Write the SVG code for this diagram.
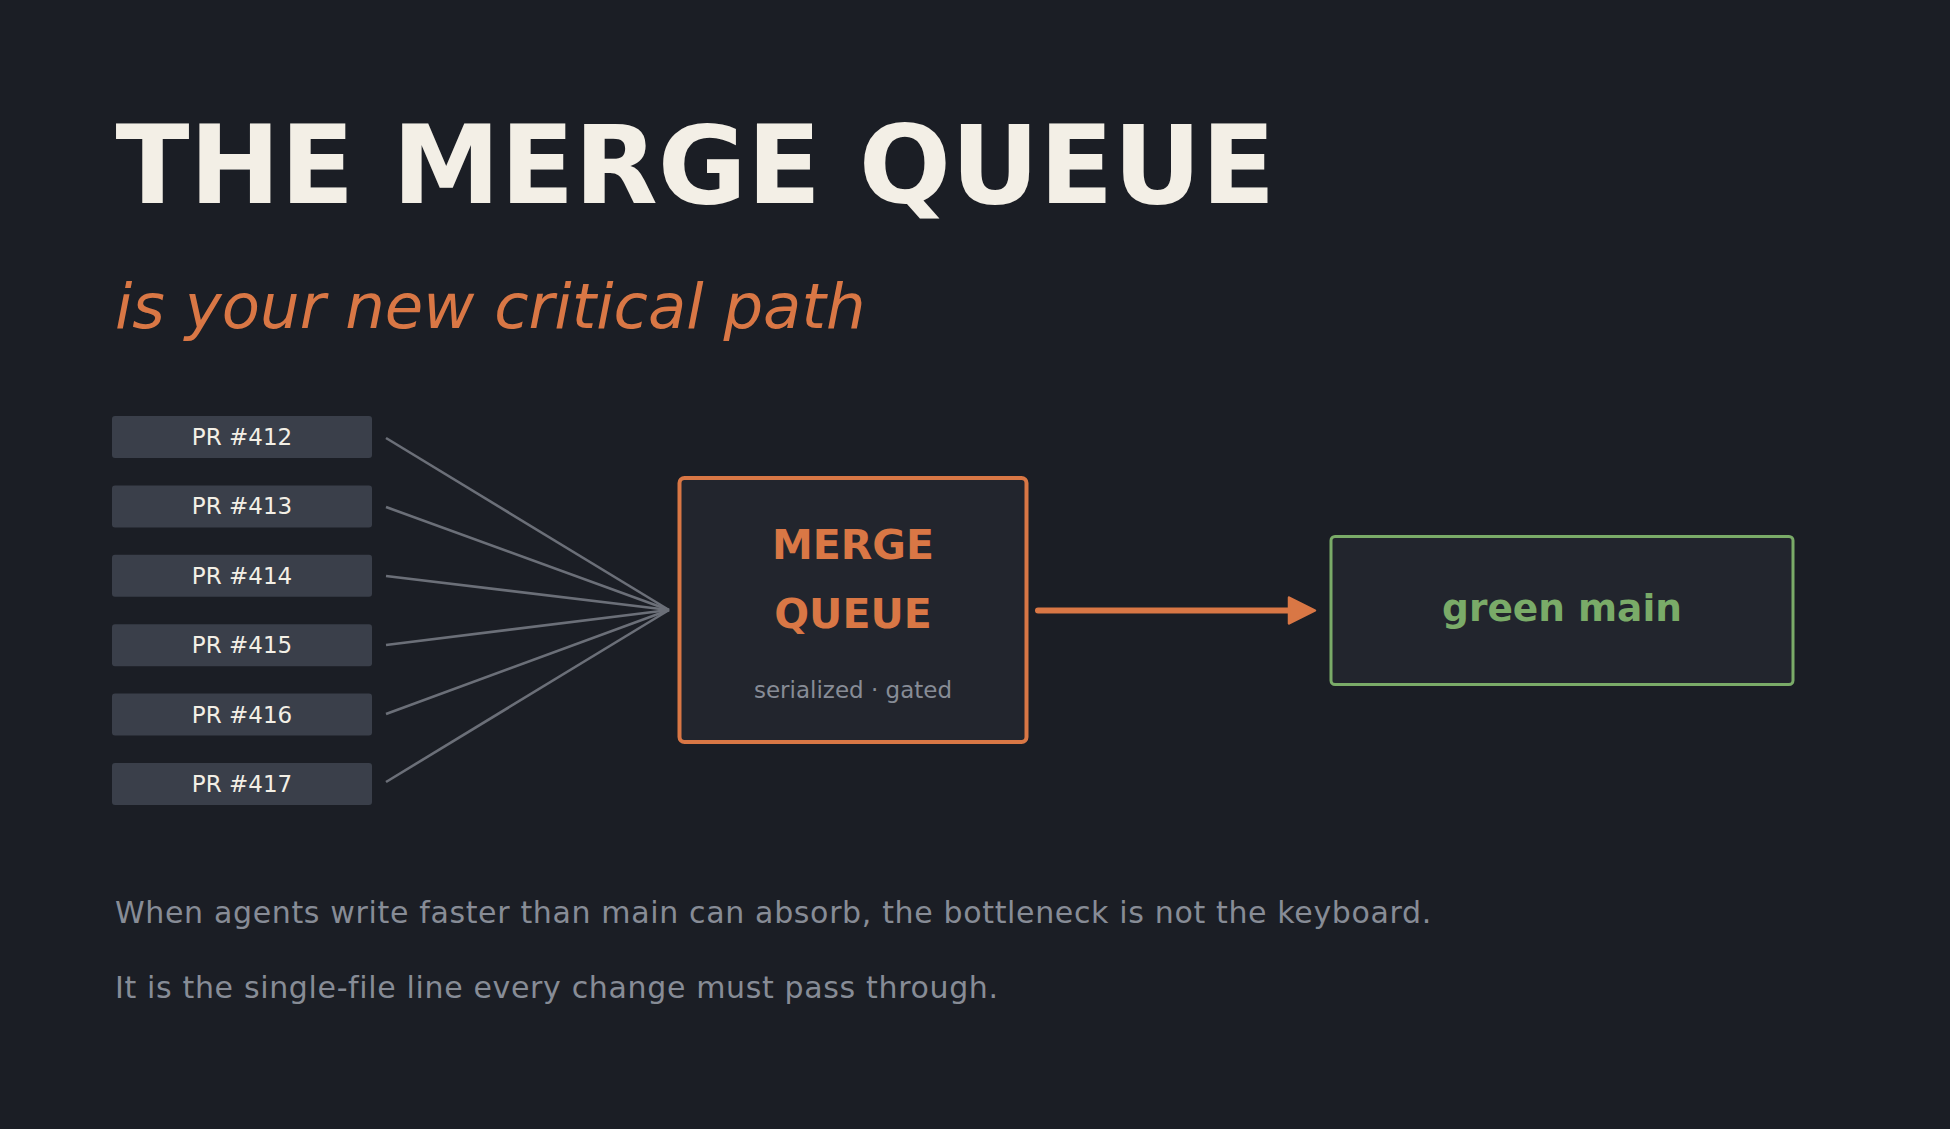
<svg xmlns="http://www.w3.org/2000/svg" width="1950" height="1129" viewBox="0 0 1950 1129">
<defs>
<style>
text{font-family:"DejaVu Sans","Liberation Sans",sans-serif}
.title{font-size:108.5px;font-weight:bold;fill:#f3efe6}
.sub{font-size:62.5px;font-style:italic;fill:#d97745}
.pr rect{fill:#3a3f4a}
.pr text{font-size:23px;fill:#f3efe6;text-anchor:middle}
.feed{stroke:#6b6f78;stroke-width:2.6;fill:none}
.qbox{fill:#22252d;stroke:#d97745;stroke-width:4}
.qtitle{font-size:41px;font-weight:bold;fill:#d97745;text-anchor:middle}
.qsub{font-size:23px;fill:#878c96;text-anchor:middle}
.gbox{fill:#22252d;stroke:#7aab68;stroke-width:3}
.gtext{font-size:37.5px;font-weight:bold;fill:#7aab68;text-anchor:middle}
.body{font-size:30px;fill:#878c96;letter-spacing:0.65px}
</style>
<marker id="arrow" markerUnits="userSpaceOnUse" markerWidth="32" markerHeight="32" viewBox="0 0 32 32" refX="3" refY="16" orient="auto">
<path d="M3,3 L29,16 L3,29 Z" fill="#d97745" stroke="#d97745" stroke-width="2.5" stroke-linejoin="round"/>
</marker>
</defs>
<rect x="0" y="0" width="1950" height="1129" fill="#1b1e25"/>
<g id="title">
<text class="title" x="115.5" y="203">THE MERGE QUEUE</text>
<text class="sub" x="115" y="328">is your new critical path</text>
</g>
<g id="connectors">
<line class="feed" x1="386" y1="438" x2="669" y2="610"/>
<line class="feed" x1="386" y1="507" x2="669" y2="610"/>
<line class="feed" x1="386" y1="576" x2="669" y2="610"/>
<line class="feed" x1="386" y1="645" x2="669" y2="610"/>
<line class="feed" x1="386" y1="714" x2="669" y2="610"/>
<line class="feed" x1="386" y1="782" x2="669" y2="610"/>
<line x1="1038" y1="610.5" x2="1289" y2="610.5" stroke="#d97745" stroke-width="6" stroke-linecap="round" marker-end="url(#arrow)"/>
</g>
<g id="pr412" class="pr"><rect x="112" y="416" width="260" height="42" rx="3"/><text x="242" y="445">PR #412</text></g>
<g id="pr413" class="pr"><rect x="112" y="485.4" width="260" height="42" rx="3"/><text x="242" y="514.4">PR #413</text></g>
<g id="pr414" class="pr"><rect x="112" y="554.8" width="260" height="42" rx="3"/><text x="242" y="583.8">PR #414</text></g>
<g id="pr415" class="pr"><rect x="112" y="624.2" width="260" height="42" rx="3"/><text x="242" y="653.2">PR #415</text></g>
<g id="pr416" class="pr"><rect x="112" y="693.6" width="260" height="42" rx="3"/><text x="242" y="722.6">PR #416</text></g>
<g id="pr417" class="pr"><rect x="112" y="763" width="260" height="42" rx="3"/><text x="242" y="792">PR #417</text></g>
<g id="merge-queue">
<rect class="qbox" x="679.5" y="478" width="347" height="264" rx="5"/>
<text class="qtitle" x="853" y="559">MERGE</text>
<text class="qtitle" x="853" y="628">QUEUE</text>
<text class="qsub" x="853" y="698">serialized · gated</text>
</g>
<g id="green-main">
<rect class="gbox" x="1331" y="536.5" width="462" height="148" rx="4"/>
<text class="gtext" x="1562" y="621">green main</text>
</g>
<g id="caption">
<text class="body" x="115" y="923">When agents write faster than main can absorb, the bottleneck is not the keyboard.</text>
<text class="body" x="115" y="998">It is the single-file line every change must pass through.</text>
</g>
</svg>
